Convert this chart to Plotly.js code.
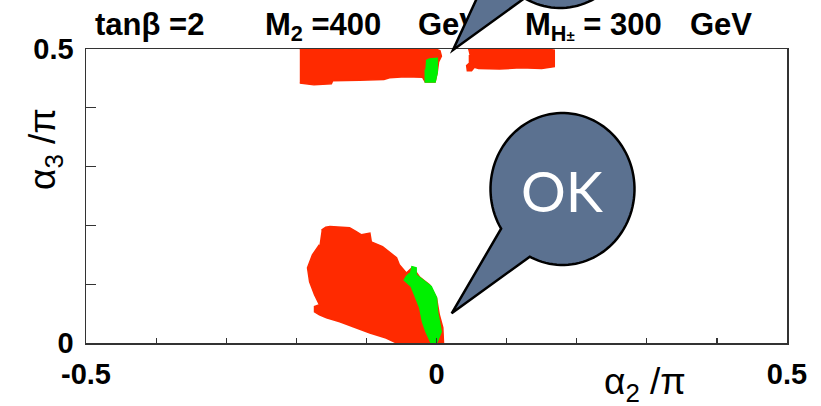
<!DOCTYPE html>
<html>
<head>
<meta charset="utf-8">
<script src="https://cdn.plot.ly/plotly-3.0.1.min.js"></script>
<style>html,body{margin:0;padding:0;background:#fff;}#chart{width:821px;height:406px;}</style>
</head>
<body>
<div id="chart"></div>
<script>
// ---- data (outlines of the scanned point clouds) ----
const redLowX = [-0.164,-0.158,-0.152,-0.138,-0.124,-0.115,-0.107,-0.095,-0.093,-0.077,-0.067,-0.057,-0.053,-0.043,-0.034,-0.024,-0.010,0.000,0.004,0.009,0.010,-0.006,-0.029,-0.057,-0.072,-0.095,-0.114,-0.138,-0.157,-0.167,-0.174,-0.174,-0.167,-0.174,-0.181,-0.184,-0.177,-0.167];
const redLowY = [0.192,0.197,0.198,0.197,0.196,0.190,0.184,0.187,0.172,0.164,0.155,0.145,0.133,0.119,0.129,0.112,0.099,0.077,0.048,0.026,0.000,-0.003,-0.006,0.000,0.0085,0.017,0.0255,0.036,0.043,0.048,0.053,0.062,0.065,0.082,0.104,0.128,0.150,0.167];
const greenLowX = [-0.036,-0.029,-0.029,-0.020,-0.0075,0.000,0.0014,0.005,0.0067,0.000,-0.0077,-0.015,-0.020,-0.024,-0.031,-0.036,-0.046,-0.043,-0.038];
const greenLowY = [0.130,0.128,0.116,0.107,0.096,0.077,0.053,0.031,0.019,0.000,0.000,0.019,0.036,0.060,0.082,0.096,0.107,0.113,0.119];
const redTopLX = [-0.195,-0.160,-0.120,-0.080,-0.040,-0.005,0.005,0.007,0.003,0.001,-0.002,-0.016,-0.020,-0.045,-0.067,-0.075,-0.110,-0.148,-0.150,-0.175,-0.195];
const redTopLY = [0.500,0.502,0.499,0.502,0.500,0.502,0.497,0.488,0.478,0.460,0.444,0.444,0.452,0.453,0.451,0.448,0.447,0.446,0.441,0.439,0.442];
const greenTopX = [-0.015,-0.010,0.001,0.001,-0.002,-0.016,-0.016];
const greenTopY = [0.480,0.483,0.484,0.460,0.444,0.444,0.465];
const redTopRX = [0.045,0.080,0.120,0.150,0.168,0.168,0.150,0.120,0.090,0.060,0.054,0.050,0.044,0.043,0.047,0.047];
const redTopRY = [0.500,0.502,0.500,0.502,0.498,0.470,0.467,0.468,0.466,0.467,0.469,0.463,0.463,0.472,0.476,0.490];

const xTickVals = [-0.5,-0.4,-0.3,-0.2,-0.1,0,0.1,0.2,0.3,0.4,0.5];
const xTickText = ['-0.5','','','','','0','','','','','0.5'];
const yTickVals = [0,0.1,0.2,0.3,0.4,0.5];
const yTickText = ['0','','','','','0.5'];
const titleParts = ['tanβ =2','M<sub>2</sub> =400','GeV','M<sub>H<span style="font-size:15px">±</span></sub> = 300','GeV'];
const bubbleText = 'OK';

// ---- layout helpers ----
const W = 821, PB = 343;           // paper spans pixel rows 0..343 (bottom margin 63)
function P(px, py){ return [px / W, (PB - py) / PB]; }
function bubblePath(cx, cy, rx, ry, a1, a2, tip){
  const pts = [];
  for (let a = a1; a < a2; a += 3){ const r = a*Math.PI/180; pts.push([cx + rx*Math.cos(r), cy + ry*Math.sin(r)]); }
  const r2 = a2*Math.PI/180; pts.push([cx + rx*Math.cos(r2), cy + ry*Math.sin(r2)]);
  pts.push(tip);
  return 'M' + pts.map(p => { const q = P(p[0], p[1]); return q[0].toFixed(5) + ',' + q[1].toFixed(5); }).join('L') + 'Z';
}

const RED = '#ff2a00', GREEN = '#00f000';
function poly(x, y, c){
  return {x: x, y: y, mode: 'lines', fill: 'toself', fillcolor: c, line: {color: c, width: 1.5}, hoverinfo: 'skip', showlegend: false};
}
const fontFam = '"Liberation Sans", Arial, Helvetica, sans-serif';

const data = [
  poly(redLowX, redLowY, RED),
  poly(greenLowX, greenLowY, GREEN),
  poly(redTopLX, redTopLY, RED),
  poly(redTopRX, redTopRY, RED),
  poly(greenTopX, greenTopY, GREEN),
  {x: [95, 265, 418, 525, 690], y: [27, 27, 27, 27, 27], text: titleParts, mode: 'text',
   textposition: 'middle right', xaxis: 'x2', yaxis: 'y2', cliponaxis: false, hoverinfo: 'skip', showlegend: false,
   textfont: {family: fontFam, size: 31, weight: 'bold', color: '#000'}}
];

const axCommon = {showline: true, linecolor: '#333', linewidth: 1.5, mirror: true, ticks: 'inside', tickcolor: '#333',
  tickwidth: 1.2, showgrid: false, zeroline: false, tickmode: 'array', fixedrange: true,
  tickfont: {family: fontFam, size: 29, weight: 'bold', color: '#000'}, ticklabelstandoff: 5};

const layout = {
  width: 821, height: 406,
  margin: {l: 0, r: 0, t: 0, b: 63},
  paper_bgcolor: '#fff', plot_bgcolor: 'rgba(0,0,0,0)',
  showlegend: false,
  xaxis: Object.assign({}, axCommon, {domain: [86/W, 787/W], range: [-0.5, 0.5], tickvals: xTickVals, ticktext: xTickText, ticklen: 5, anchor: 'y'}),
  yaxis: Object.assign({}, axCommon, {domain: [0, 294/PB], range: [0, 0.5], tickvals: yTickVals, ticktext: yTickText, ticklen: 10, anchor: 'x'}),
  xaxis2: {domain: [0, 1], range: [0, W], visible: false, anchor: 'y2', fixedrange: true},
  yaxis2: {domain: [294/PB, 1], range: [49, 0], visible: false, anchor: 'x2', fixedrange: true},
  shapes: [
    {type: 'path', xref: 'paper', yref: 'paper', layer: 'above',
     path: bubblePath(562.5, 189, 72, 76, 148.5, 477, [451.7, 313.3]),
     fillcolor: '#5b7190', line: {color: '#000', width: 2.5}},
    {type: 'path', xref: 'paper', yref: 'paper', layer: 'above',
     path: bubblePath(560, -68, 72, 76, 157, 479.5, [453, 50]),
     fillcolor: '#5b7190', line: {color: '#000', width: 2.5}}
  ],
  annotations: [
    {xref: 'paper', yref: 'paper', x: 562/W, y: (PB-191)/PB, text: bubbleText, showarrow: false,
     font: {family: 'Lato, "Open Sans", sans-serif', size: 56, color: '#fff'}, xanchor: 'center', yanchor: 'middle'},
    {xref: 'paper', yref: 'paper', x: 645/W, y: (PB-384)/PB, text: 'α<sub>2</sub> /π', showarrow: false,
     font: {family: fontFam, size: 37, color: '#000'}, xanchor: 'center', yanchor: 'middle'},
    {xref: 'paper', yref: 'paper', x: 45/W, y: (PB-149)/PB, text: 'α<sub>3</sub> /π', showarrow: false, textangle: -90,
     font: {family: fontFam, size: 37, color: '#000'}, xanchor: 'center', yanchor: 'middle'}
  ]
};

Plotly.newPlot('chart', data, layout, {staticPlot: true, displayModeBar: false});
</script>
</body>
</html>
